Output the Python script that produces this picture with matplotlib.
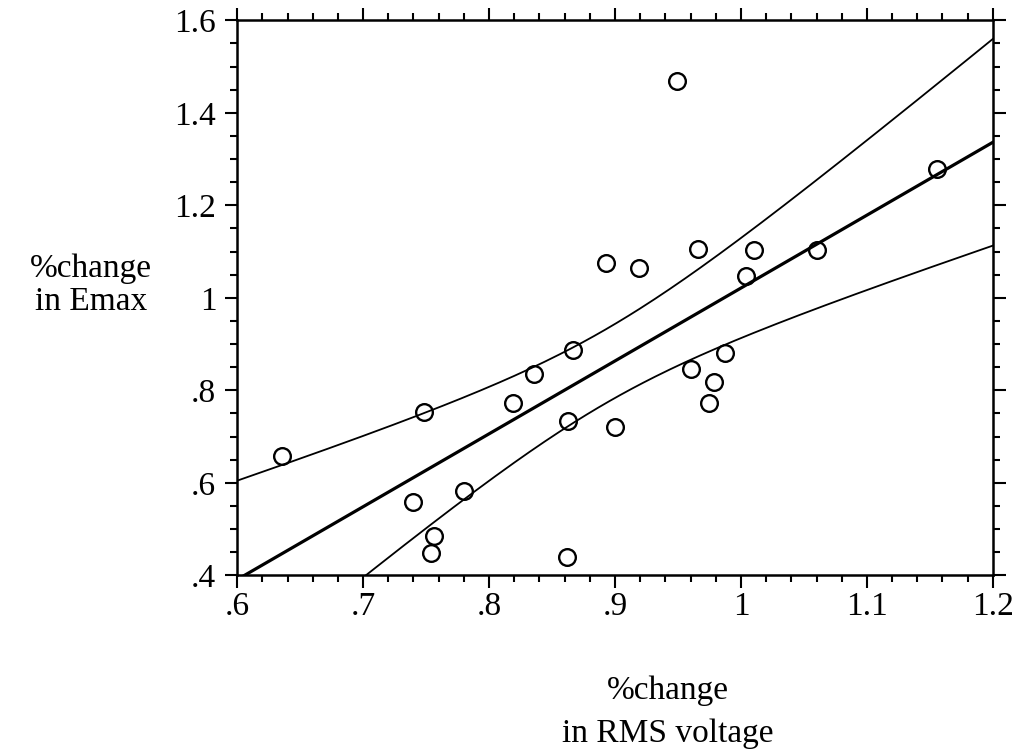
import numpy as np
import matplotlib
matplotlib.use("Agg")
import matplotlib.pyplot as plt
from matplotlib.ticker import MultipleLocator, FixedLocator

# % change in RMS voltage (x) vs % change in Emax (y)
rms_change = [0.636, 0.748, 0.740, 0.756, 0.754, 0.780, 0.819, 0.836, 0.863, 0.867,
              0.862, 0.893, 0.919, 0.900, 0.949, 0.960, 0.966, 0.979, 0.975, 0.987,
              1.004, 1.010, 1.060, 1.156]
emax_change = [0.657, 0.754, 0.559, 0.485, 0.449, 0.583, 0.773, 0.836, 0.733, 0.887,
               0.439, 1.076, 1.065, 0.720, 1.469, 0.847, 1.105, 0.817, 0.772, 0.880,
               1.047, 1.104, 1.103, 1.279]

x_ticks = [0.6, 0.7, 0.8, 0.9, 1.0, 1.1, 1.2]
x_ticklabels = [".6", ".7", ".8", ".9", "1", "1.1", "1.2"]
y_ticks = [0.4, 0.6, 0.8, 1.0, 1.2, 1.4, 1.6]
y_ticklabels = [".4", ".6", ".8", "1", "1.2", "1.4", "1.6"]

T_95 = 2.074  # t value, 22 degrees of freedom

plt.rcParams["font.family"] = ["Liberation Serif", "DejaVu Serif"]

x = np.array(rms_change)
y = np.array(emax_change)
n = len(x)

# least squares fit + 95% confidence band for the mean
slope, intercept = np.polyfit(x, y, 1)
resid = y - (intercept + slope * x)
s = np.sqrt(np.sum(resid ** 2) / (n - 2))
sxx = np.sum((x - x.mean()) ** 2)
xs = np.linspace(0.6, 1.2, 200)
fit = intercept + slope * xs
half = T_95 * s * np.sqrt(1.0 / n + (xs - x.mean()) ** 2 / sxx)

fig = plt.figure(figsize=(10.31, 7.54), dpi=100)
ax = fig.add_axes([0.230, 0.237, 0.733, 0.736])

ax.plot(xs, fit, color="black", lw=2.3, zorder=3)
ax.plot(xs, fit + half, color="black", lw=1.3, zorder=3)
ax.plot(xs, fit - half, color="black", lw=1.3, zorder=3)
ax.plot(x, y, "o", ms=12, mfc="none", mec="black", mew=1.7, zorder=4, clip_on=False)

ax.set_xlim(0.6, 1.2)
ax.set_ylim(0.4, 1.6)

ax.xaxis.set_major_locator(FixedLocator(x_ticks))
ax.set_xticklabels(x_ticklabels)
ax.yaxis.set_major_locator(FixedLocator(y_ticks))
ax.set_yticklabels(y_ticklabels)
ax.xaxis.set_minor_locator(MultipleLocator(0.02))
ax.yaxis.set_minor_locator(MultipleLocator(0.05))

ax.tick_params(which="both", direction="out", top=True, right=True,
               labeltop=False, labelright=False, width=1.5, colors="black",
               labelsize=24)
ax.tick_params(which="major", length=9)
ax.tick_params(which="minor", length=5)
ax.tick_params(axis="x", which="major", pad=3)
ax.tick_params(axis="y", which="major", pad=6)
for sp in ax.spines.values():
    sp.set_linewidth(1.8)

fig.text(0.088, 0.622, "%change\nin Emax", ha="center", va="center",
         fontsize=24, linespacing=1.1)
fig.text(0.648, 0.055, "%change\nin RMS voltage", ha="center", va="center",
         fontsize=24, linespacing=1.55)

fig.savefig("out.png", dpi=100)
